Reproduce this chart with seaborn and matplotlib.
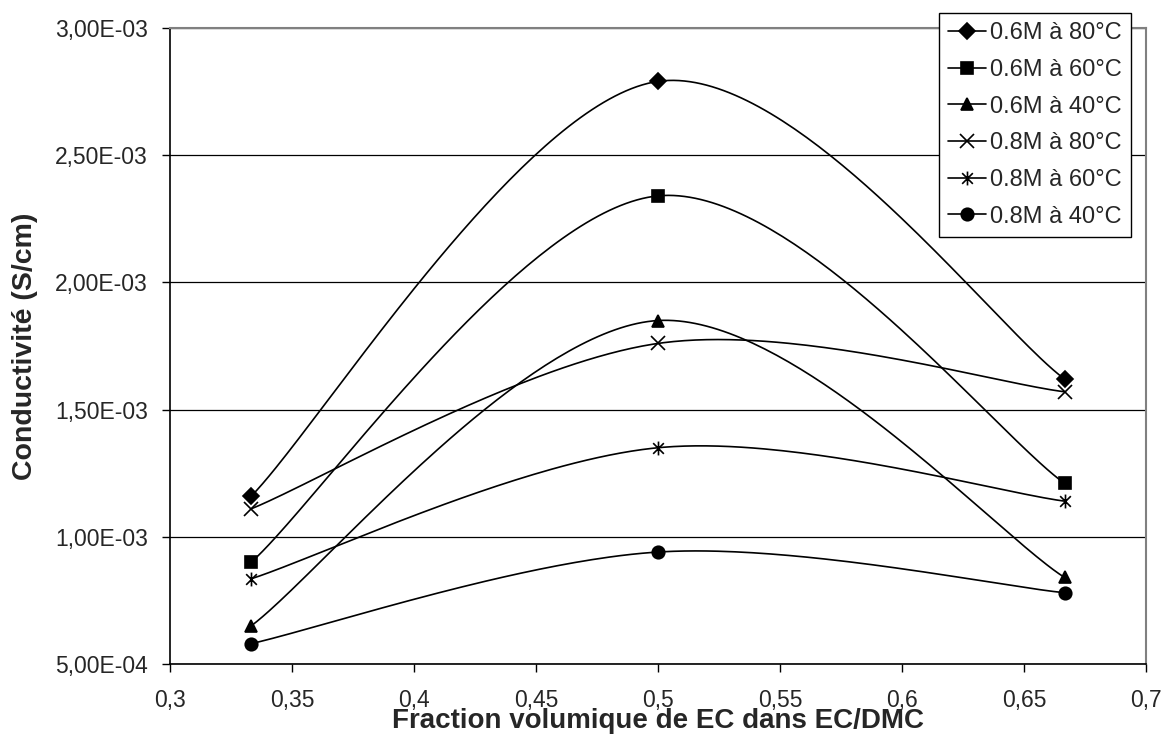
#!/usr/bin/env python3
# Conductivite vs fraction volumique de EC (courbes lissees facon Excel)

import numpy as np
import pandas as pd
import matplotlib
matplotlib.use('Agg')
import matplotlib.pyplot as plt
from matplotlib.lines import Line2D
from matplotlib.path import Path
from matplotlib.ticker import FuncFormatter, MultipleLocator
import seaborn as sns

sns.set_style("white")
plt.rcParams['font.family'] = ['Liberation Sans', 'DejaVu Sans']

# Data
fraction = [1 / 3, 0.5, 2 / 3]
series = ['0.6M à 80°C', '0.6M à 60°C', '0.6M à 40°C',
          '0.8M à 80°C', '0.8M à 60°C', '0.8M à 40°C']
c_06_80 = [1.16e-3, 2.79e-3, 1.62e-3]
c_06_60 = [0.90e-3, 2.34e-3, 1.21e-3]
c_06_40 = [0.65e-3, 1.85e-3, 0.84e-3]
c_08_80 = [1.11e-3, 1.76e-3, 1.57e-3]
c_08_60 = [0.835e-3, 1.35e-3, 1.14e-3]
c_08_40 = [0.58e-3, 0.94e-3, 0.78e-3]
values = [c_06_80, c_06_60, c_06_40, c_08_80, c_08_60, c_08_40]

# asterisk marker like Excel's (X plus a vertical bar)
star = Path([(-1, -1), (1, 1), (-1, 1), (1, -1), (0, -1.3), (0, 1.3)],
            [Path.MOVETO, Path.LINETO, Path.MOVETO, Path.LINETO, Path.MOVETO, Path.LINETO])
markers = {'0.6M à 80°C': 'D', '0.6M à 60°C': 's', '0.6M à 40°C': '^',
           '0.8M à 80°C': 'x', '0.8M à 60°C': star, '0.8M à 40°C': 'o'}
msizes = {'0.6M à 80°C': 8, '0.6M à 60°C': 9, '0.6M à 40°C': 9,
          '0.8M à 80°C': 10, '0.8M à 60°C': 10, '0.8M à 40°C': 9}


def excel_smooth(x, y, n=80):
    # Bezier segments with Catmull-Rom style control points (Excel "smoothed line")
    P = np.column_stack([x, y])
    xs, ys = [], []
    t = np.linspace(0, 1, n)[:, None]
    for i in range(len(P) - 1):
        p0, p3 = P[i], P[i + 1]
        prev = P[i - 1] if i > 0 else P[i]
        nxt = P[i + 2] if i + 2 < len(P) else P[i + 1]
        c1 = p0 + (p3 - prev) / 6
        c2 = p3 - (nxt - p0) / 6
        b = ((1 - t) ** 3) * p0 + 3 * ((1 - t) ** 2) * t * c1 + 3 * (1 - t) * t ** 2 * c2 + t ** 3 * p3
        xs.extend(b[:, 0])
        ys.extend(b[:, 1])
    return xs, ys


rows = []
for name, v in zip(series, values):
    sx, sy = excel_smooth(fraction, v)
    rows.append(pd.DataFrame({'x': sx, 'y': sy, 'serie': name}))
curves = pd.concat(rows, ignore_index=True)

points = pd.DataFrame({
    'x': np.tile(fraction, len(series)),
    'y': np.concatenate(values),
    'serie': np.repeat(series, len(fraction)),
})

fig = plt.figure(figsize=(11.61, 7.38), dpi=100)
ax = fig.add_axes([0.1464, 0.1003, 0.8406, 0.8618])

sns.lineplot(data=curves, x='x', y='y', hue='serie', units='serie', estimator=None,
             sort=False, palette=['black'] * len(series), linewidth=1.2, legend=False, ax=ax)

for name in series:
    sub = points[points['serie'] == name]
    ax.plot(sub['x'], sub['y'], linestyle='none', marker=markers[name], color='black',
            markersize=msizes[name], markeredgewidth=1.2, zorder=5)

ax.set_xlim(0.3, 0.7)
ax.set_ylim(5e-4, 3e-3)
ax.xaxis.set_major_locator(MultipleLocator(0.05))
ax.yaxis.set_major_locator(MultipleLocator(5e-4))
ax.xaxis.set_major_formatter(FuncFormatter(lambda v, p: f"{v:g}".replace('.', ',')))
ax.yaxis.set_major_formatter(FuncFormatter(lambda v, p: f"{v:.2E}".replace('.', ',')))
ax.tick_params(axis='both', direction='out', length=5.8, width=1, color='black',
               labelsize=16.5, bottom=True, left=True)
ax.tick_params(axis='x', pad=12)
ax.tick_params(axis='y', pad=10)

ax.yaxis.grid(True, color='black', linewidth=0.9)
ax.xaxis.grid(False)
ax.set_axisbelow(True)
for s in ['left', 'bottom']:
    ax.spines[s].set_color('black')
    ax.spines[s].set_linewidth(1.2)
for s in ['top', 'right']:
    ax.spines[s].set_color('#808080')
    ax.spines[s].set_linewidth(1.5)

ax.set_xlabel('Fraction volumique de EC dans EC/DMC', fontsize=20, fontweight='bold', labelpad=-3)
ax.set_ylabel('Conductivité (S/cm)', fontsize=20.5, fontweight='bold', labelpad=12)

handles = [Line2D([], [], color='black', linewidth=1.2, marker=markers[name],
                  markersize=msizes[name], markeredgewidth=1.2) for name in series]
leg = ax.legend(handles, series, loc='upper right', bbox_to_anchor=(0.9846, 1.0236),
                fontsize=17, frameon=True, fancybox=False, handlelength=1.6,
                handletextpad=0.15, labelspacing=0.62, borderpad=0.4, borderaxespad=0)
leg.get_frame().set_edgecolor('black')
leg.get_frame().set_linewidth(1.0)
leg.get_frame().set_alpha(1)

fig.savefig('out.png', dpi=100)
